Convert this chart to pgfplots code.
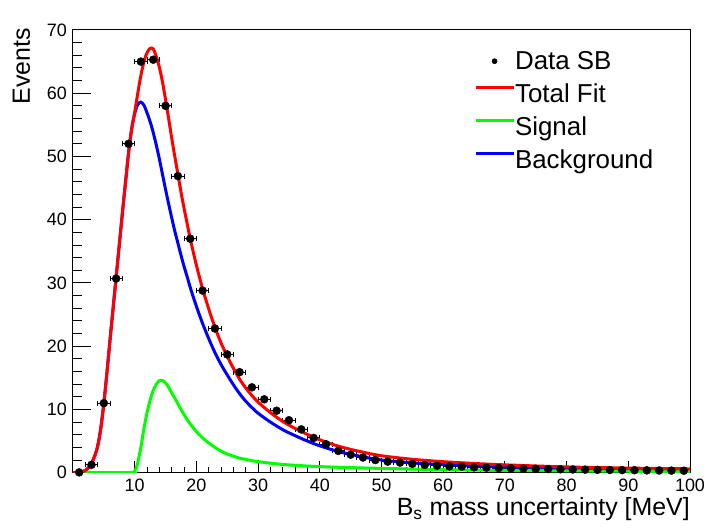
\documentclass[border=0pt]{standalone}
\usepackage{fontspec}
\setmainfont{Liberation Sans}
\usepackage{pgfplots}
\usepackage{pgfplotstable}
\pgfplotsset{compat=1.18}

\pgfplotstableread{
x y ex
1 0.05 1
3 1.25 1
5 11.0 1
7 30.7 1
9 52.0 1
11 65.0 1
13 65.3 1
15 58.0 1
17 46.9 1
19 37.0 1
21 28.8 1
23 22.8 1
25 18.7 1
27 15.9 1
29 13.5 1
31 11.6 1
33 9.8 1
35 8.3 1
37 6.85 1
39 5.5 1
41 4.5 1
43 3.45 1
45 2.85 1
47 2.4 1
49 2.0 1
51 1.75 1
53 1.6 1
55 1.4 1
57 1.22 1
59 1.1 1
61 1.0 1
63 0.95 1
65 0.85 1
67 0.8 1
69 0.74 1
71 0.7 1
73 0.65 1
75 0.61 1
77 0.57 1
79 0.54 1
81 0.51 1
83 0.48 1
85 0.45 1
87 0.43 1
89 0.41 1
91 0.39 1
93 0.37 1
95 0.35 1
97 0.33 1
99 0.31 1
}\datasb

\pgfplotstableread{
x y
0 0
1 0.02
1.5 0.1
2 0.35
2.5 0.8
3 1.5
3.5 2.6
4 4.2
4.5 7.0
5 11.0
5.5 15.8
6 21.0
6.5 26.0
7 31.0
7.5 36.0
8 41.0
8.5 45.8
9 50.5
9.5 54.3
10 57.0
10.5 60.0
11 62.8
11.5 65.0
12 66.4
12.5 67.1
13 67.0
13.5 65.8
14 64.1
14.5 61.8
15 59.0
15.5 56.0
16 52.9
16.5 50.0
17 47.2
17.5 44.4
18 41.8
18.5 39.4
19 37.0
20 32.8
21 29.1
22 25.9
23 23.0
24 20.5
25 18.4
26 16.5
27 14.8
28 13.4
29 12.2
30 11.15
32 9.5
34 8.1
36 7.0
38 6.05
40 5.2
43 4.2
46.5 3.35
50 2.68
55 2.12
60 1.74
65 1.46
70 1.24
80 0.91
90 0.73
100 0.61
}\totalfit

\pgfplotstableread{
x y
0 0
9.5 0
9.9 0.15
10.2 0.6
10.5 1.6
11 4.0
11.5 7.0
12 9.5
12.5 11.5
13 13.0
13.5 14.0
14 14.55
14.5 14.6
15 14.2
15.5 13.5
16 12.6
16.5 11.8
17 10.9
17.5 10.0
18 9.2
18.5 8.4
19 7.7
20 6.5
21 5.5
22 4.7
23 4.0
24 3.4
25 2.95
26 2.6
27 2.3
28 2.1
29 1.9
30 1.75
32 1.5
34 1.3
36 1.17
38 1.05
40 0.96
43 0.86
46.5 0.76
50 0.68
55 0.57
60 0.47
65 0.41
70 0.36
80 0.29
90 0.23
100 0.19
}\signal

\pgfplotstableread{
x y
0 0
1 0.02
1.5 0.1
2 0.35
2.5 0.8
3 1.5
3.5 2.6
4 4.2
4.5 7.0
5 11.0
5.5 15.8
6 21.0
6.5 26.0
7 31.0
7.5 36.0
8 41.0
8.5 45.8
9 50.5
9.5 54.3
10 56.8
10.5 58.2
11 58.6
11.5 58.1
12 56.9
12.5 55.5
13 53.8
13.5 51.8
14 49.6
14.5 47.2
15 44.8
15.5 42.5
16 40.3
16.5 38.2
17 36.3
17.5 34.4
18 32.6
18.5 31.0
19 29.3
20 26.3
21 23.6
22 21.2
23 19.0
24 17.1
25 15.45
26 13.9
27 12.5
28 11.3
29 10.3
30 9.4
32 8.0
34 6.8
36 5.85
38 5.0
40 4.25
43 3.35
46.5 2.6
50 2.0
55 1.55
60 1.27
65 1.05
70 0.88
80 0.62
90 0.5
100 0.42
}\background

\begin{document}
\begin{tikzpicture}
\begin{axis}[
  at={(0,0)}, anchor=south west,
  scale only axis, width=617bp, height=442.7bp,
  xmin=0, xmax=100, ymin=0, ymax=70,
  xtick={10,20,...,100}, ytick={0,10,...,70},
  minor x tick num=4, minor y tick num=4,
  tick align=inside, xtick pos=lower, ytick pos=left,
  axis line style={line width=1bp},
  tick style={line width=1bp, black},
  major tick length=12bp, minor tick length=6bp,
  major y tick style={/pgfplots/major tick length=18bp},
  minor y tick style={/pgfplots/minor tick length=9bp},
  /pgf/number format/assume math mode=true,
  ticklabel style={font=\fontsize{18}{18}\selectfont},
  yticklabel style={inner sep=0pt, xshift=-6bp},
  xticklabel style={inner sep=0pt, yshift=-6.5bp},
  xlabel={B\textsubscript{s} mass uncertainty [MeV]},
  xlabel style={at={(axis description cs:1,-0.056)}, anchor=north east, inner sep=0pt, font=\fontsize{25}{25}\selectfont},
  ylabel={Events},
  ylabel style={at={(axis description cs:-0.069,1.005)}, anchor=south east, inner sep=0pt, font=\fontsize{25}{25}\selectfont},
  legend style={at={(axis description cs:0.65,0.9526)}, anchor=north west, draw=none, fill=none,
    font=\fontsize{26}{26}\selectfont, row sep=9.5bp, inner sep=0pt, outer sep=0pt,
    nodes={inner sep=0pt, text height=18.5bp, text depth=5bp},
    /tikz/every even column/.append style={column sep=8bp}},
  legend cell align=left,
]
\addlegendimage{legend image code/.code={\path[draw=none, fill=none] (0bp,7bp) rectangle (38bp,10bp); \fill[black] (19bp,1.5bp) circle (2.6bp);}}
\addlegendentry{Data SB}
\addlegendimage{legend image code/.code={\draw[red, line width=3bp] (0bp,8.5bp) -- (38bp,8.5bp);}}
\addlegendentry{Total Fit}
\addlegendimage{legend image code/.code={\draw[green, line width=3bp] (0bp,8.5bp) -- (38bp,8.5bp);}}
\addlegendentry{Signal}
\addlegendimage{legend image code/.code={\draw[blue, line width=3bp] (0bp,8.5bp) -- (38bp,8.5bp);}}
\addlegendentry{Background}
\addplot[only marks, mark=*, mark size=4bp, black, forget plot,
  error bars/.cd, x dir=both, x explicit, error mark=|,
  error bar style={line width=1bp, black},
  error mark options={line width=1bp, mark size=2.5bp, black}]
  table[x=x, y=y, x error=ex] {\datasb};
\addplot[blue, line width=3bp, smooth, forget plot] table[x=x, y=y] {\background};
\addplot[green, line width=3bp, smooth, tension=0.3, forget plot] table[x=x, y=y] {\signal};
\addplot[red, line width=3bp, smooth, forget plot] table[x=x, y=y] {\totalfit};
\node[anchor=base west, inner sep=0pt, font=\fontsize{12}{12}\selectfont] at (axis description cs:0,1.007) {×10\textsuperscript{3}};
\end{axis}
\pgfresetboundingbox
\useasboundingbox (-73bp,-56.3bp) rectangle (634bp,472.7bp);
\end{tikzpicture}
\end{document}
